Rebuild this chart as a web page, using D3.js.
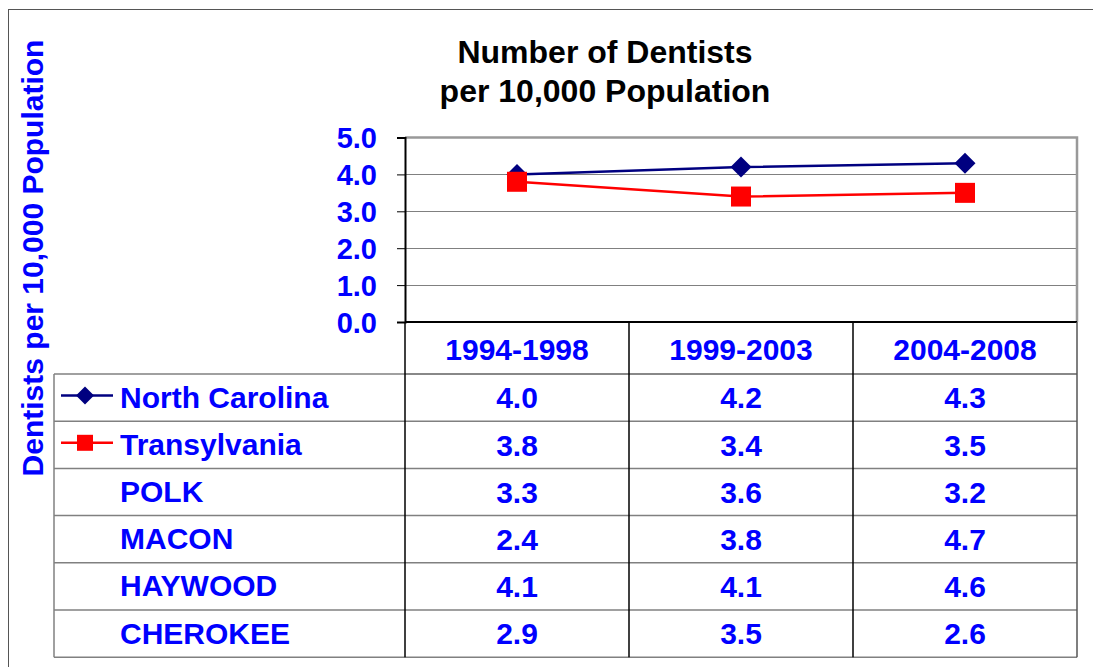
<!DOCTYPE html>
<html><head><meta charset="utf-8">
<script src="https://cdn.jsdelivr.net/npm/d3@7"></script>
<style>html,body{margin:0;padding:0;background:#fff;}svg{display:block;}</style>
</head><body>
<svg id="chart" width="1093" height="667"></svg>
<script>
const categories = ["1994-1998", "1999-2003", "2004-2008"];
const seriesNames = ["North Carolina", "Transylvania", "POLK", "MACON", "HAYWOOD", "CHEROKEE"];
const northCarolina = [4.0, 4.2, 4.3];
const transylvania = [3.8, 3.4, 3.5];
const polk = [3.3, 3.6, 3.2];
const macon = [2.4, 3.8, 4.7];
const haywood = [4.1, 4.1, 4.6];
const cherokee = [2.9, 3.5, 2.6];
const yTicks = [0, 1, 2, 3, 4, 5];
const titleLines = ["Number of Dentists", "per 10,000 Population"];
const yAxisTitle = "Dentists per 10,000 Population";

const seriesValues = [northCarolina, transylvania, polk, macon, haywood, cherokee];
const plotted = [
  {name: seriesNames[0], values: northCarolina, color: "#000080", marker: "diamond"},
  {name: seriesNames[1], values: transylvania, color: "#ff0000", marker: "square"}
];

const FONT = "'Liberation Sans', Arial, sans-serif";
const BLUE = "#0000ff";
const FS = 30;

const svg = d3.select("#chart");

// outer chart border
svg.append("rect").attr("x", 8.5).attr("y", 9.5).attr("width", 1200).attr("height", 800)
  .attr("fill", "none").attr("stroke", "#555").attr("stroke-width", 1);

const plotL = 405, plotR = 1077, plotT = 137.5, plotB = 322;
const x = d3.scaleBand().domain(categories).range([plotL, plotR]);
const y = d3.scaleLinear().domain([0, 5]).range([plotB, plotT]);

// gridlines
svg.append("g").selectAll("line").data(yTicks.filter(t => t > 0 && t < 5)).join("line")
  .attr("x1", plotL).attr("x2", plotR)
  .attr("y1", d => Math.round(y(d)) + 0.5).attr("y2", d => Math.round(y(d)) + 0.5)
  .attr("stroke", "#808080").attr("stroke-width", 1);

// plot border top and right
svg.append("path")
  .attr("d", `M${plotL},${plotT} H${plotR} V${plotB}`)
  .attr("fill", "none").attr("stroke", "#999").attr("stroke-width", 2.5);

// y axis
const yAxis = d3.axisLeft(y).tickValues(yTicks).tickFormat(d3.format(".1f")).tickSize(8).tickPadding(20);
const gy = svg.append("g").attr("transform", `translate(${plotL},0)`).call(yAxis);
gy.select(".domain").attr("stroke", "#000").attr("stroke-width", 2);
gy.selectAll(".tick line").attr("stroke", "#000").attr("stroke-width", 1);
gy.selectAll(".tick text").attr("fill", BLUE).attr("font-family", FONT)
  .attr("font-size", 29).attr("font-weight", "bold").attr("dy", "0.36em");

// x-axis baseline
svg.append("line").attr("x1", plotL).attr("x2", plotR).attr("y1", plotB).attr("y2", plotB)
  .attr("stroke", "#000").attr("stroke-width", 2);

// title
svg.append("text").attr("font-family", FONT).attr("font-size", 32).attr("font-weight", "bold")
  .attr("fill", "#000").attr("text-anchor", "middle")
  .selectAll("tspan").data(titleLines).join("tspan")
  .attr("x", 605).attr("y", (d, i) => 63 + i * 39).text(d => d);

// y axis title
svg.append("text").attr("transform", "translate(43,258) rotate(-90)")
  .attr("text-anchor", "middle").attr("font-family", FONT).attr("font-size", 30)
  .attr("font-weight", "bold").attr("fill", BLUE).text(yAxisTitle);

// data table
const tableL = 54, tableR = plotR, headerB = 374, rowH = 47.2;
const rowY = i => headerB + i * rowH;
const tableB = rowY(seriesNames.length);
const tg = svg.append("g");
tg.append("line").attr("x1", plotL).attr("x2", plotR).attr("y1", headerB).attr("y2", headerB)
  .attr("stroke", "#808080").attr("stroke-width", 1.5);
tg.selectAll("line.row").data(d3.range(seriesNames.length + 1)).join("line").attr("class", "row")
  .attr("x1", tableL).attr("x2", tableR)
  .attr("y1", i => rowY(i)).attr("y2", i => rowY(i))
  .attr("stroke", "#808080").attr("stroke-width", 1.5);
tg.append("line").attr("x1", tableL).attr("x2", tableL).attr("y1", headerB).attr("y2", tableB)
  .attr("stroke", "#808080").attr("stroke-width", 1.5);
const colEdges = [plotL, ...categories.map(c => x(c) + x.bandwidth())];
tg.selectAll("line.col").data(colEdges).join("line").attr("class", "col")
  .attr("x1", d => d).attr("x2", d => d)
  .attr("y1", plotB).attr("y2", tableB)
  .attr("stroke", (d, i) => i === colEdges.length - 1 ? "#555" : "#000").attr("stroke-width", 1.5);

// header labels
tg.selectAll("text.hdr").data(categories).join("text").attr("class", "hdr")
  .attr("x", d => x(d) + x.bandwidth() / 2).attr("y", (plotB + headerB) / 2 + 1)
  .attr("dy", "0.36em").attr("text-anchor", "middle")
  .attr("font-family", FONT).attr("font-size", FS).attr("font-weight", "bold").attr("fill", BLUE)
  .text(d => d);

// row labels and values
seriesNames.forEach((name, i) => {
  const cy = rowY(i) + rowH / 2;
  tg.append("text").attr("x", 120).attr("y", cy).attr("dy", "0.33em")
    .attr("font-family", FONT).attr("font-size", FS).attr("font-weight", "bold").attr("fill", BLUE)
    .text(name);
  tg.selectAll(null).data(seriesValues[i]).join("text")
    .attr("x", (d, j) => x(categories[j]) + x.bandwidth() / 2).attr("y", cy).attr("dy", "0.36em")
    .attr("text-anchor", "middle")
    .attr("font-family", FONT).attr("font-size", FS).attr("font-weight", "bold").attr("fill", BLUE)
    .text(d => d3.format(".1f")(d));
});

function marker(g, type, cx, cy, size, color) {
  if (type === "diamond") {
    g.append("path").attr("d", `M${cx},${cy - size} L${cx + size},${cy} L${cx},${cy + size} L${cx - size},${cy} Z`)
      .attr("fill", color);
  } else {
    g.append("rect").attr("x", cx - size).attr("y", cy - size).attr("width", size * 2).attr("height", size * 2)
      .attr("fill", color);
  }
}

// series lines
const line = d3.line().x((d, i) => x(categories[i]) + x.bandwidth() / 2).y(d => y(d));
plotted.forEach(s => {
  const g = svg.append("g");
  g.append("path").attr("d", line(s.values)).attr("fill", "none")
    .attr("stroke", s.color).attr("stroke-width", 2.5);
  s.values.forEach((v, i) => {
    marker(g, s.marker, x(categories[i]) + x.bandwidth() / 2, y(v), s.marker === "diamond" ? 10.5 : 10, s.color);
  });
  const ri = seriesNames.indexOf(s.name);
  const ly = rowY(ri) + rowH / 2 - 2;
  const lg = svg.append("g");
  lg.append("line").attr("x1", 61).attr("x2", 113).attr("y1", ly).attr("y2", ly)
    .attr("stroke", s.color).attr("stroke-width", 2.5);
  marker(lg, s.marker, 85, ly, s.marker === "diamond" ? 9 : 8, s.color);
});
</script>
</body></html>
